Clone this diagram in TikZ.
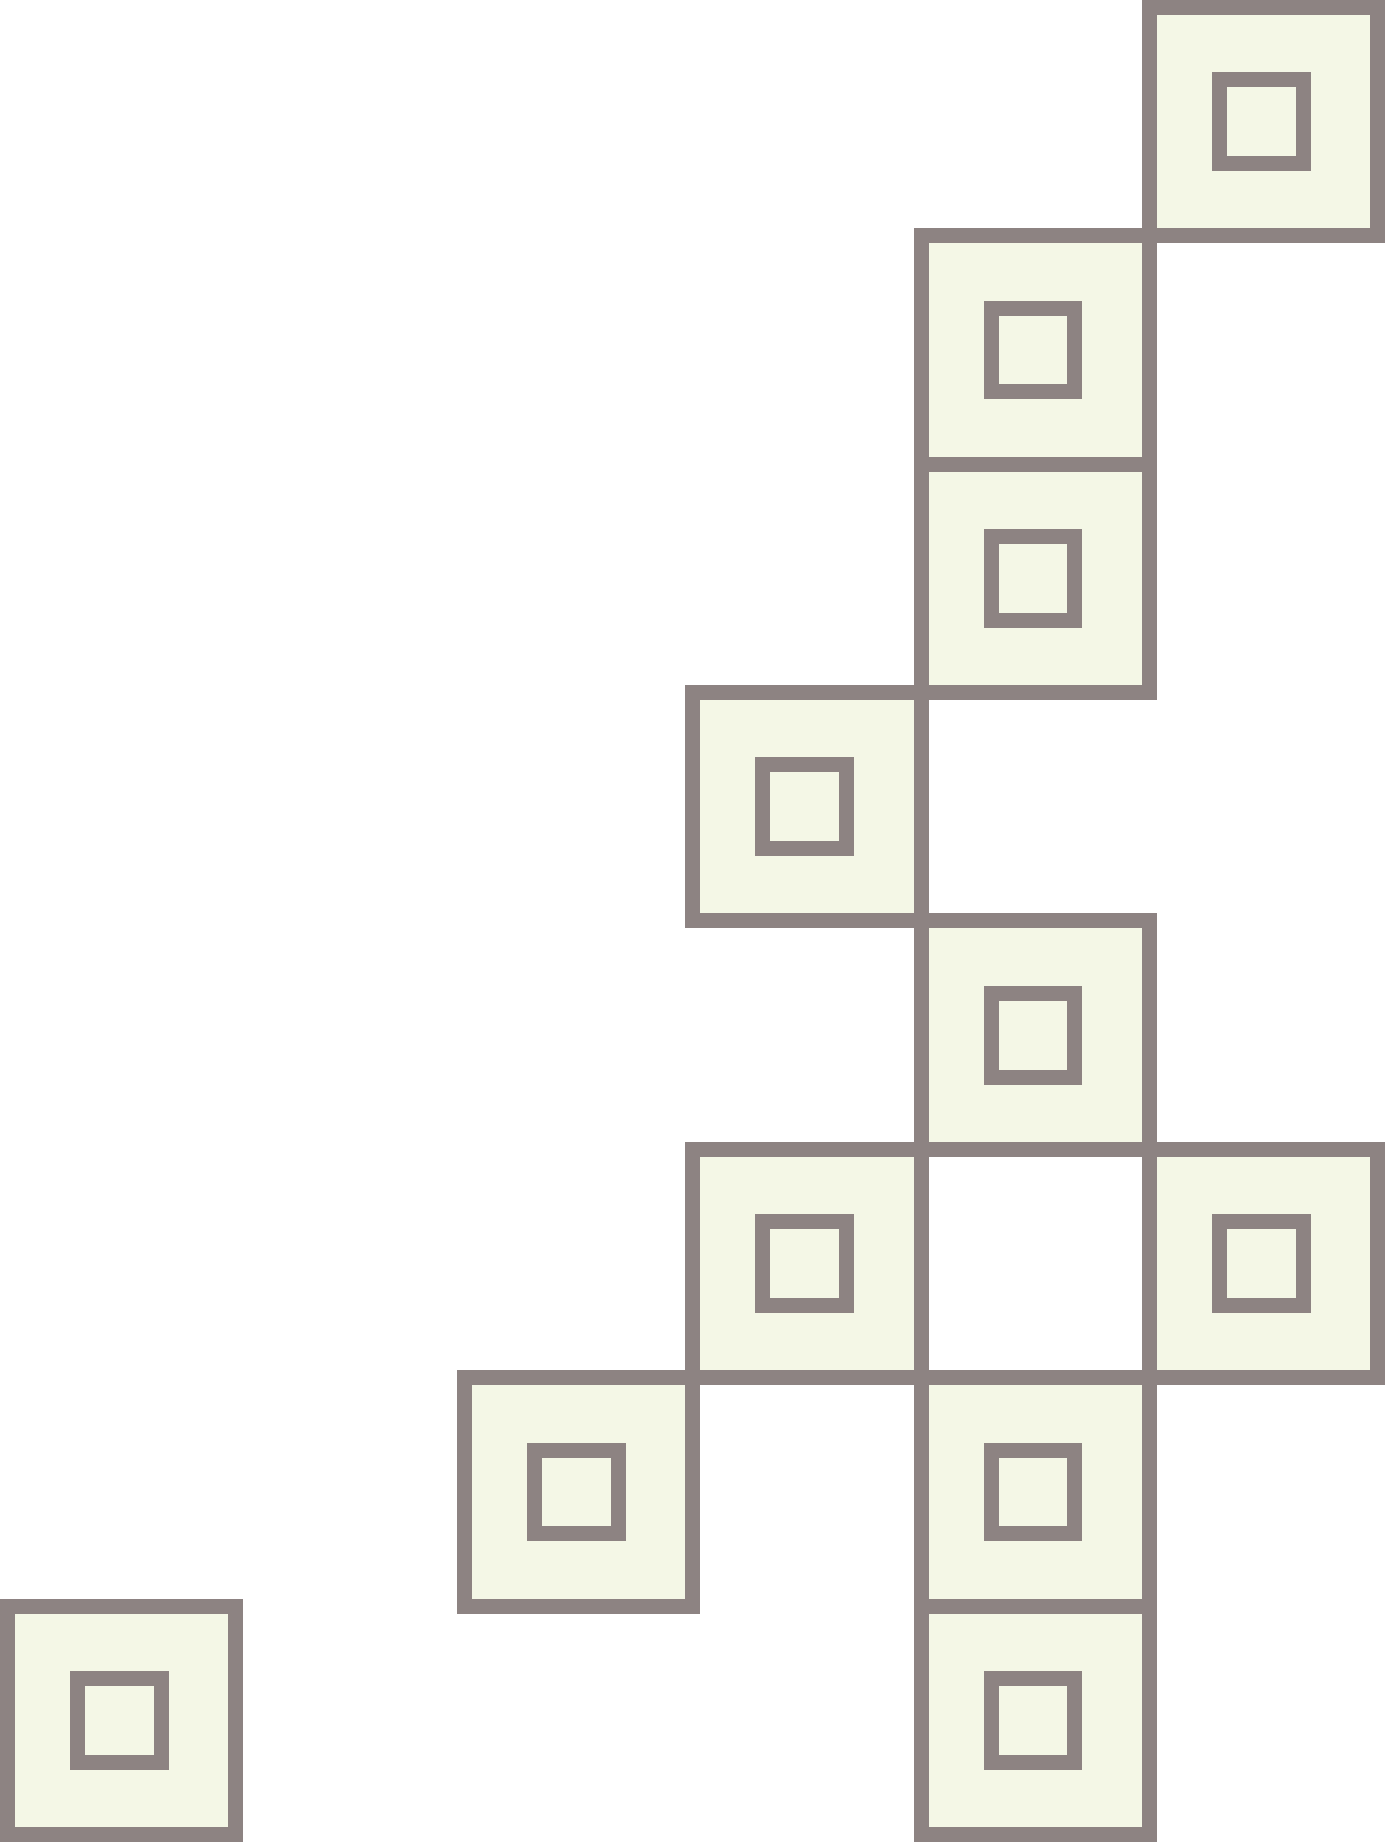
\documentclass[tikz,border=0pt]{standalone}
\usepackage{tikz}
\usetikzlibrary{calc}
\usepackage{xcolor}
\definecolor{cellgray}{RGB}{141,131,130}
\definecolor{cellfill}{RGB}{244,247,230}

\begin{document}
\begin{tikzpicture}[scale=1,
    cell/.style={draw=cellgray, line width=0.0656cm, fill=cellfill, minimum size=1cm, inner sep=0pt, outer sep=0pt},
    hole/.style={draw=cellgray, line width=0.0656cm, minimum size=0.367cm, inner sep=0pt, outer sep=0pt}]
		\useasboundingbox (-0.0328,-0.0328) rectangle (6.0328,8.0328);% Fixes the page size
		\foreach \c/\r in {5/7,4/6,4/5,3/4,4/3,3/2,5/2,2/1,4/1,0/0,4/0}{% Column and row of each cell
			\node[cell] (cell\c\r) at (\c+0.5,\r+0.5) {};
			\node[hole] (hole\c\r) at ($(cell\c\r.center)+(-0.01,0)$) {};
				% Small square in the middle of the cell
		}
	\end{tikzpicture}
\end{document}
